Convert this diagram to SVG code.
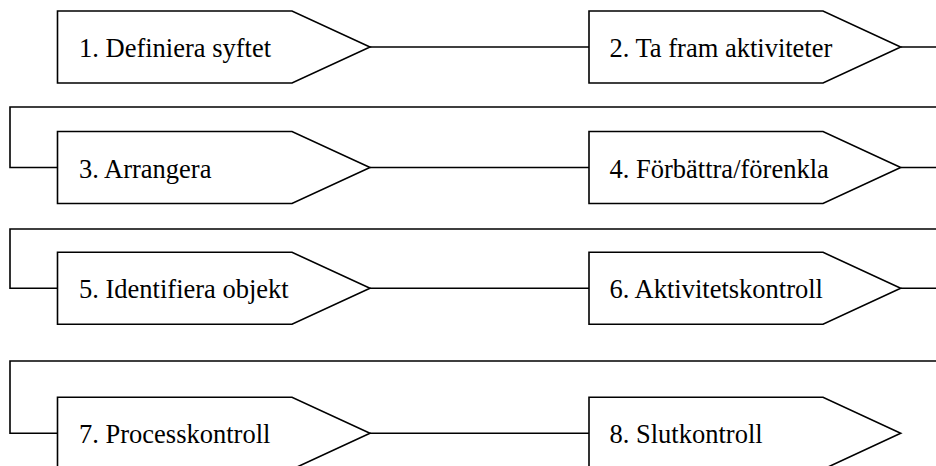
<svg xmlns="http://www.w3.org/2000/svg" width="936" height="466" viewBox="0 0 936 466">
  <style>
    .step { fill: #ffffff; stroke: #000000; stroke-width: 1.6; stroke-linejoin: miter; }
    .label { font-family: "Liberation Serif", "Times New Roman", serif; font-size: 26.5px; fill: #000000; }
    .conn { fill: none; stroke: #000000; stroke-width: 1.6; }
  </style>
  <defs>
    <!-- pentagon arrow step, origin at left-middle -->
    <polygon id="arrowL" points="0,-36 234.5,-36 312.5,0 234.5,36 0,36"/>
    <polygon id="arrowR" points="0,-36 234,-36 311.7,0 234,36 0,36"/>
  </defs>
  <rect width="936" height="466" fill="#ffffff"/>

  <g id="connectors">
    <!-- row 1 -->
    <line class="conn" x1="370" y1="47" x2="589" y2="47"/>
    <line class="conn" x1="900.7" y1="47" x2="936" y2="47"/>
    <polyline class="conn" points="936,107 10,107 10,167.5 57.5,167.5"/>
    <!-- row 2 -->
    <line class="conn" x1="370" y1="167.5" x2="589" y2="167.5"/>
    <line class="conn" x1="900.7" y1="167.5" x2="936" y2="167.5"/>
    <polyline class="conn" points="936,229 10,229 10,288.3 57.5,288.3"/>
    <!-- row 3 -->
    <line class="conn" x1="370" y1="288.3" x2="589" y2="288.3"/>
    <line class="conn" x1="900.7" y1="288.3" x2="936" y2="288.3"/>
    <polyline class="conn" points="936,361 10,361 10,433.3 57.5,433.3"/>
    <!-- row 4 -->
    <line class="conn" x1="370" y1="433.3" x2="589" y2="433.3"/>
  </g>

  <g id="step1">
    <use href="#arrowL" class="step" x="57.5" y="47"/>
    <text class="label" x="79" y="57">1. Definiera syftet</text>
  </g>
  <g id="step2">
    <use href="#arrowR" class="step" x="589" y="47"/>
    <text class="label" x="609.5" y="57">2. Ta fram aktiviteter</text>
  </g>
  <g id="step3">
    <use href="#arrowL" class="step" x="57.5" y="167.5"/>
    <text class="label" x="79" y="177.5">3. Arrangera</text>
  </g>
  <g id="step4">
    <use href="#arrowR" class="step" x="589" y="167.5"/>
    <text class="label" x="609.5" y="177.5">4. Förbättra/förenkla</text>
  </g>
  <g id="step5">
    <use href="#arrowL" class="step" x="57.5" y="288.3"/>
    <text class="label" x="79" y="298.3">5. Identifiera objekt</text>
  </g>
  <g id="step6">
    <use href="#arrowR" class="step" x="589" y="288.3"/>
    <text class="label" x="609.5" y="298.3">6. Aktivitetskontroll</text>
  </g>
  <g id="step7">
    <use href="#arrowL" class="step" x="57.5" y="433.3"/>
    <text class="label" x="79" y="443.3">7. Processkontroll</text>
  </g>
  <g id="step8">
    <use href="#arrowR" class="step" x="589" y="433.3"/>
    <text class="label" x="609.5" y="443.3">8. Slutkontroll</text>
  </g>
</svg>
